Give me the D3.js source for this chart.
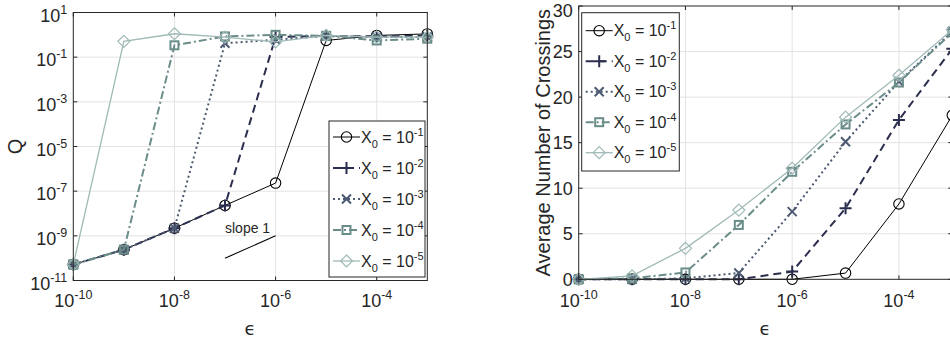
<!DOCTYPE html>
<html>
<head>
<meta charset="utf-8">
<script src="https://cdn.jsdelivr.net/npm/d3@7/dist/d3.min.js"></script>
<style>
  html, body { margin: 0; padding: 0; background: #fff; }
  svg { display: block; }
  text { font-family: "Liberation Sans", Arial, Helvetica, sans-serif; fill: #262626; }
</style>
</head>
<body>
<svg id="chart" width="950" height="341"></svg>
<script>
// Noise level epsilon (x values shared by both panels)
const epsilon = [1e-10, 1e-9, 1e-8, 1e-7, 1e-6, 1e-5, 1e-4, 1e-3];

// Initial condition exponents for each series
const x0Exponents = [-1, -2, -3, -4, -5];

// Left panel: Q for each X0
const qX1 = [5.2e-11, 2.4e-10, 2.2e-9, 2.3e-8, 2.3e-7, 0.56, 0.94, 1.1];
const qX2 = [5.2e-11, 2.4e-10, 2.2e-9, 2.3e-8, 0.8, 0.9, 0.85, 0.9];
const qX3 = [5.2e-11, 2.4e-10, 2.2e-9, 0.42, 0.6, 0.9, 0.8, 0.8];
const qX4 = [5.2e-11, 2.4e-10, 0.34, 0.85, 1.0, 0.9, 0.56, 0.67];
const qX5 = [5.2e-11, 0.51, 1.12, 0.79, 0.48, 0.94, 0.79, 0.8];

// Right panel: average number of crossings for each X0
const crossX1 = [0, 0, 0, 0, 0, 0.68, 8.27, 18.0];
const crossX2 = [0, 0, 0, 0, 0.85, 7.8, 17.5, 25.3];
const crossX3 = [0, 0, 0.1, 0.7, 7.43, 15.1, 21.7, 27.2];
const crossX4 = [0, 0.1, 0.75, 5.97, 11.8, 17.0, 21.6, 27.1];
const crossX5 = [0, 0.38, 3.4, 7.6, 12.2, 17.8, 22.4, 27.4];

// Tick labels
const xTickExps = [-10, -8, -6, -4];
const qTickExps = [1, -1, -3, -5, -7, -9, -11];
const crossTicks = [0, 5, 10, 15, 20, 25, 30];

// Reference slope-1 segment
const slopeX = [1e-7, 1e-6];
const slopeY = [1e-10, 1e-9];

// Series styling
const styles = [
  { color: "#000000", width: 1.0, dash: null,          marker: "circle" },
  { color: "#2b2e4e", width: 2.0, dash: "8,5",         marker: "plus" },
  { color: "#4c5a72", width: 2.0, dash: "2,3",         marker: "cross" },
  { color: "#6a8d89", width: 2.0, dash: "8,3,2,3",     marker: "square" },
  { color: "#a0bab7", width: 1.3, dash: null,          marker: "diamond" }
];

const svg = d3.select("#chart");
const AXIS = "#262626", GRID = "#e3e3e3";
const TICK_FS = 18, SUP_FS = 12.5, LEG_FS = 16, LEG_SUP = 11;

function drawMarker(g, type, x, y, st) {
  const c = st.color;
  if (type === "circle") {
    g.append("circle").attr("cx", x).attr("cy", y).attr("r", 5.2)
      .attr("fill", "none").attr("stroke", c).attr("stroke-width", 1.1);
  } else if (type === "plus") {
    const s = 6;
    g.append("path").attr("d", `M${x - s},${y}H${x + s}M${x},${y - s}V${y + s}`)
      .attr("stroke", c).attr("stroke-width", 2).attr("fill", "none");
  } else if (type === "cross") {
    const s = 4.5;
    g.append("path").attr("d", `M${x - s},${y - s}L${x + s},${y + s}M${x - s},${y + s}L${x + s},${y - s}`)
      .attr("stroke", c).attr("stroke-width", 2).attr("fill", "none");
  } else if (type === "square") {
    const s = 4;
    g.append("rect").attr("x", x - s).attr("y", y - s).attr("width", 2 * s).attr("height", 2 * s)
      .attr("fill", "none").attr("stroke", c).attr("stroke-width", 2);
  } else if (type === "diamond") {
    const s = 6;
    g.append("path").attr("d", `M${x},${y - s}L${x + s},${y}L${x},${y + s}L${x - s},${y}Z`)
      .attr("fill", "none").attr("stroke", c).attr("stroke-width", 1.2);
  }
}

function drawPanel(opt) {
  const { x, y, series, yTicks, yLabel, yLabelX, xLabelX, legend, yIsLog, yFmt } = opt;
  const [x0, x1] = x.range();
  const [yb, yt] = y.range();
  const g = svg.append("g");
  const xTicks = xTickExps.filter(e => {
    const v = Math.pow(10, e); return v >= x.domain()[0] * 0.999 && v <= x.domain()[1] * 1.001;
  });

  // Grid
  xTicks.forEach(e => {
    const px = x(Math.pow(10, e));
    if (px > x0 + 0.5 && px < x1 - 0.5)
      g.append("line").attr("x1", px).attr("x2", px).attr("y1", yt).attr("y2", yb)
        .attr("stroke", GRID).attr("stroke-width", 1);
  });
  yTicks.forEach(t => {
    const py = y(t);
    if (py < yb - 0.5 && py > yt + 0.5)
      g.append("line").attr("x1", x0).attr("x2", x1).attr("y1", py).attr("y2", py)
        .attr("stroke", GRID).attr("stroke-width", 1);
  });

  // Series
  const clip = "clip" + Math.round(x0);
  svg.append("clipPath").attr("id", clip).append("rect")
    .attr("x", x0 - 8).attr("y", yt - 8).attr("width", x1 - x0 + 16).attr("height", yb - yt + 16);
  const sg = g.append("g").attr("clip-path", `url(#${clip})`);
  series.forEach((vals, i) => {
    const st = styles[i];
    const line = d3.line().x((d, j) => x(epsilon[j])).y(d => y(d));
    sg.append("path").datum(vals).attr("d", line).attr("fill", "none")
      .attr("stroke", st.color).attr("stroke-width", st.width)
      .attr("stroke-dasharray", st.dash);
    vals.forEach((v, j) => drawMarker(sg, st.marker, x(epsilon[j]), y(v), st));
  });

  if (opt.extra) opt.extra(g);

  // Axes box and ticks
  const ag = g.append("g");
  ag.append("rect").attr("x", x0).attr("y", yt).attr("width", x1 - x0).attr("height", yb - yt)
    .attr("fill", "none").attr("stroke", AXIS).attr("stroke-width", 1);
  const tl = 4;
  xTicks.forEach(e => {
    const px = x(Math.pow(10, e));
    ag.append("path").attr("d", `M${px},${yb}V${yb - tl}M${px},${yt}V${yt + tl}`)
      .attr("stroke", AXIS).attr("stroke-width", 1);
    const t = ag.append("text").attr("x", px).attr("y", 306.5).attr("text-anchor", "middle")
      .attr("font-size", TICK_FS);
    t.text("10");
    t.append("tspan").attr("dy", -8).attr("font-size", SUP_FS).text(e);
  });
  yTicks.forEach(tv => {
    const py = y(tv);
    ag.append("path").attr("d", `M${x0},${py}H${x0 + tl}M${x1},${py}H${x1 - tl}`)
      .attr("stroke", AXIS).attr("stroke-width", 1);
    const t = ag.append("text").attr("x", x0 - 6).attr("text-anchor", "end")
      .attr("font-size", TICK_FS);
    if (yIsLog) {
      t.attr("y", py + 9);
      t.text("10");
      t.append("tspan").attr("dy", -8).attr("font-size", SUP_FS).text(Math.round(Math.log10(tv)));
    } else {
      // keep the top label inside the canvas
      t.attr("y", Math.max(py + 6.5, 16.5)).text(yFmt(tv));
    }
  });

  // Axis titles
  g.append("text").attr("x", xLabelX).attr("y", 335).attr("text-anchor", "middle")
    .attr("font-size", 18).style("font-family", "'DejaVu Sans', sans-serif").text("\u03F5");
  g.append("text").attr("transform", `translate(${yLabelX},${(yt + yb) / 2}) rotate(-90)`)
    .attr("text-anchor", "middle").attr("font-size", opt.yLabelFS).text(yLabel);

  // Legend
  const lg = g.append("g");
  lg.append("rect").attr("x", legend.x).attr("y", legend.y).attr("width", legend.w).attr("height", legend.h)
    .attr("fill", "#fff").attr("stroke", AXIS).attr("stroke-width", 1);
  x0Exponents.forEach((e, i) => {
    const st = styles[i];
    const cy = legend.y + legend.first + i * legend.step;
    const lx = legend.x + 4;
    lg.append("line").attr("x1", lx).attr("x2", lx + 27).attr("y1", cy).attr("y2", cy)
      .attr("stroke", st.color).attr("stroke-width", st.width).attr("stroke-dasharray", st.dash);
    drawMarker(lg, st.marker, lx + 13.5, cy, st);
    const t = lg.append("text").attr("x", lx + 28).attr("y", cy + 5.5).attr("font-size", LEG_FS);
    t.append("tspan").text("X");
    t.append("tspan").attr("dy", 5).attr("font-size", LEG_SUP).text("0");
    t.append("tspan").attr("dy", -5).text(" = 10");
    t.append("tspan").attr("dy", -7).attr("font-size", LEG_SUP).text(e);
  });
}

// Left panel: Q vs epsilon (log-log)
const xL = d3.scaleLog().domain([1e-10, 1e-3]).range([73.3, 427.3]);
const yL = d3.scaleLog().domain([1e-11, 1e1]).range([280.5, 12.5]);
drawPanel({
  x: xL, y: yL, yIsLog: true,
  series: [qX1, qX2, qX3, qX4, qX5],
  yTicks: qTickExps.map(e => Math.pow(10, e)),
  yLabel: "Q", yLabelX: 22, yLabelFS: 20, xLabelX: 250,
  legend: { x: 329, y: 121, w: 96, h: 156, first: 16, step: 31 },
  extra: g => {
    g.append("line").attr("x1", xL(slopeX[0])).attr("y1", yL(slopeY[0]))
      .attr("x2", xL(slopeX[1])).attr("y2", yL(slopeY[1]))
      .attr("stroke", "#000").attr("stroke-width", 1.1);
    g.append("text").attr("x", xL(slopeX[0])).attr("y", yL(slopeY[1]) - 3)
      .attr("font-size", 14).attr("fill", "#000").text("slope 1");
  }
});

// Right panel: average number of crossings vs epsilon
const xR = d3.scaleLog().domain([1e-10, 1e-3]).range([578.7, 952.3]);
const yR = d3.scaleLinear().domain([0, 30]).range([279.3, 6]);
drawPanel({
  x: xR, y: yR, yIsLog: false, yFmt: d => String(d),
  series: [crossX1, crossX2, crossX3, crossX4, crossX5],
  yTicks: crossTicks,
  yLabel: "Average Number of Crossings", yLabelX: 550, yLabelFS: 20, xLabelX: 765,
  legend: { x: 581.7, y: 12.7, w: 97.6, h: 158.3, first: 18, step: 30.5 }
});
</script>
</body>
</html>
